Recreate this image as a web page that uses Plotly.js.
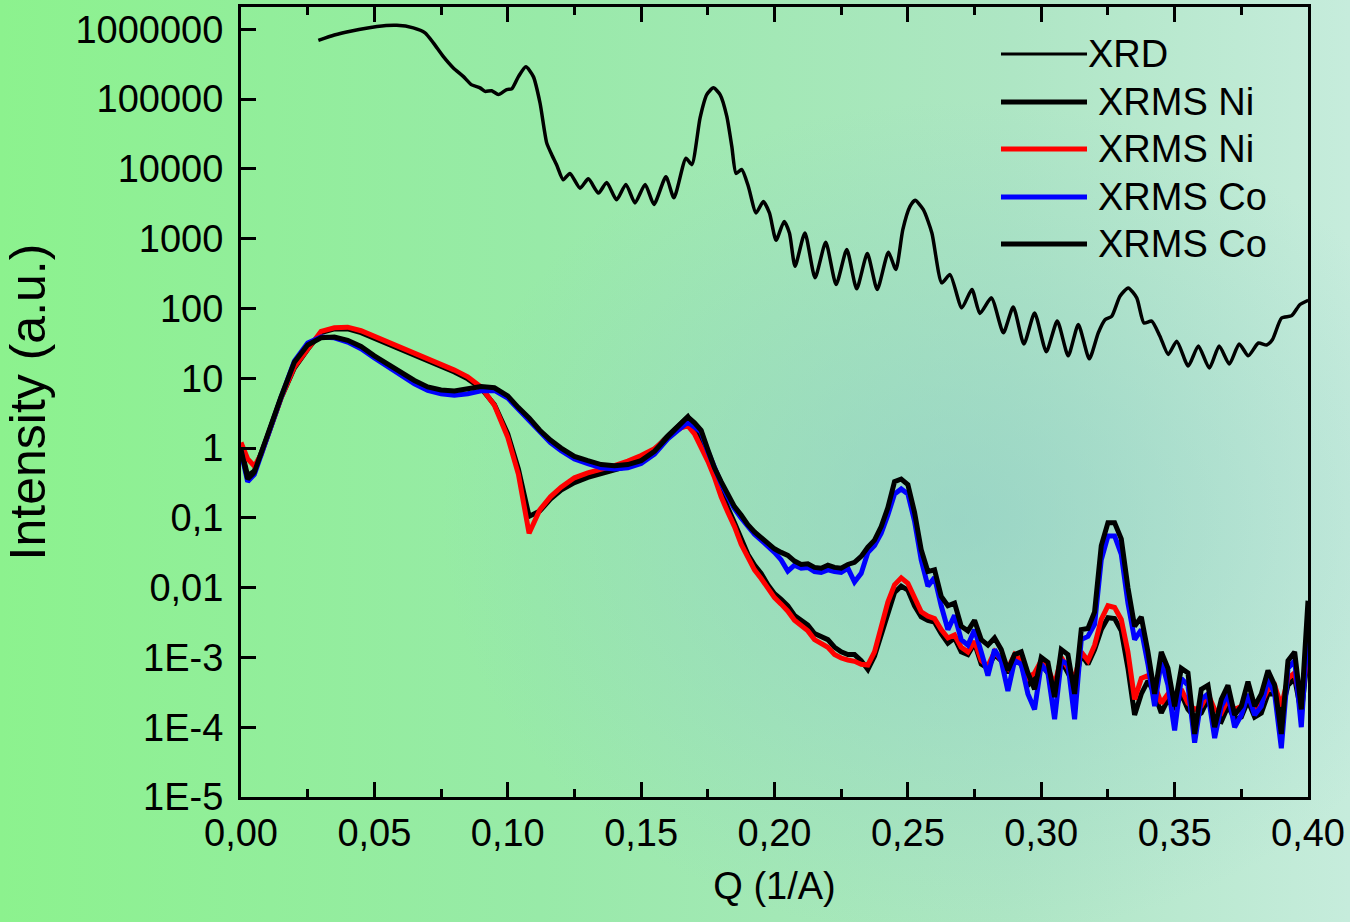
<!DOCTYPE html>
<html>
<head>
<meta charset="utf-8">
<script src="https://cdn.plot.ly/plotly-3.0.1.min.js"></script>
<style>
  html, body { margin: 0; padding: 0; }
  #chart {
    width: 1350px; height: 922px;
    background:
      radial-gradient(ellipse 520px 420px at 960px 520px, rgba(140,200,200,0.55) 0%, rgba(140,200,200,0.0) 100%),
      linear-gradient(to right, #8cf28e 0%, #98eaa8 40%, #aee6c4 75%, #c6ecdc 100%);
  }
</style>
</head>
<body>
<div id="chart"></div>
<script>
// ---------------- DATA ----------------
// XRD
const xrdQ = [0.029,0.035,0.041,0.051,0.0584,0.0646,0.069,0.0721,0.0758,0.0796,0.0833,0.0865,0.0896,0.0915,0.094,0.0965,0.0996,0.1015,0.104,0.1068,0.1096,0.1121,0.1146,0.1165,0.1183,0.1208,0.1233,0.1271,0.1302,0.134,0.1371,0.1408,0.1443,0.1477,0.1515,0.1548,0.1593,0.1623,0.1668,0.169,0.1721,0.1746,0.1771,0.1796,0.1821,0.184,0.1856,0.1877,0.1902,0.1931,0.1958,0.1981,0.2006,0.2036,0.2056,0.2077,0.2114,0.2152,0.2192,0.2231,0.2271,0.2308,0.2348,0.2385,0.2427,0.2455,0.2481,0.2508,0.2527,0.2558,0.259,0.2627,0.2658,0.2702,0.274,0.277,0.2813,0.2858,0.2895,0.2935,0.2975,0.3019,0.306,0.3101,0.3139,0.318,0.3214,0.3239,0.3264,0.3295,0.3326,0.3358,0.3385,0.3414,0.3445,0.3476,0.3508,0.3551,0.3589,0.363,0.3667,0.3705,0.3742,0.3776,0.3814,0.3845,0.3867,0.3901,0.3939,0.397,0.4001];
const xrdI = [6.95e5,8.3e5,9.4e5,1.10e6,1.14e6,1.05e6,8.9e5,6.4e5,4.1e5,2.8e5,2.12e5,1.6e5,1.45e5,1.29e5,1.32e5,1.16e5,1.37e5,1.40e5,2.1e5,2.9e5,2.1e5,8.8e4,2.36e4,1.6e4,1.15e4,7.0e3,8.6e3,5.3e3,7.2e3,4.5e3,6.4e3,3.6e3,6.0e3,3.26e3,6.0e3,3.1e3,7.7e3,3.85e3,1.42e4,1.15e4,5.4e4,1.16e5,1.45e5,1.16e5,5.7e4,2.1e4,8.6e3,9.8e3,5.6e3,2.34e3,3.4e3,2.34e3,950,1770,1210,403,1210,275,888,220,698,191,612,187,638,361,1350,2900,3550,2610,1210,233,306,102,187,85,142,45,105,31,86,24,66,21,59,19,45,69,77,150,197,142,62,66,40,22,34,15,29,14,29,16,31,21,32,30,36,73,79,114,131];

// XRMS common Q grid
const qGrid = [
  0,0.0025,0.005,0.0075,0.01,0.015,0.02,0.025,0.03,0.035,
  0.04,0.045,0.05,0.055,0.06,0.065,0.07,0.075,0.08,0.085,
  0.09,0.095,0.1,0.104,0.108,0.112,0.116,0.12,0.125,0.13,
  0.135,0.14,0.145,0.15,0.155,0.16,0.1625,0.165,0.1675,0.17,
  0.1725,0.175,0.1775,0.18,0.1825,0.185,0.1875,0.19,0.1925,0.195,
  0.1975,0.2,0.2025,0.205,0.2075,0.21,0.2125,0.215,0.2175,0.22,
  0.2225,0.225,0.2275,0.23,0.2325,0.235,0.2375,0.24,0.2425,0.245,
  0.2475,0.25,0.2525,0.255,0.2575,0.26,0.2625,0.265,0.2675,0.27,
  0.2725,0.275,0.2775,0.28,0.2825,0.285,0.2875,0.29,0.2925,0.295,
  0.2975,0.3,0.3025,0.305,0.3075,0.31,0.3125,0.315,0.3175,0.32,
  0.3225,0.325,0.3275,0.33,0.3325,0.335,0.3375,0.34,0.3425,0.345,
  0.3475,0.35,0.3525,0.355,0.3575,0.36,0.3625,0.365,0.3675,0.37,
  0.3725,0.375,0.3775,0.38,0.3825,0.385,0.3875,0.39,0.3925,0.395,
  0.3975,0.4];

const niBlack = [
  1.0,0.4,0.47,0.82,1.5,5.2,14,26,45,51,
  51,45,37.5,31,25.5,21.5,18,15,12.3,9.8,
  7.2,4.2,1.6,0.5,0.105,0.125,0.185,0.25,0.32,0.38,
  0.43,0.49,0.55,0.7,0.95,1.5,1.85,2.3,2.8,1.9,
  1.2,0.75,0.42,0.23,0.14,0.085,0.05,0.03,0.021,0.016,
  0.011,0.0082,0.0068,0.0055,0.004,0.0034,0.0029,0.0022,0.002,0.0018,
  0.0014,0.0012,0.0011,0.0011,0.0009,0.00067,0.00105,0.0022,0.0045,0.0085,
  0.0105,0.0092,0.0055,0.0038,0.0034,0.0032,0.0022,0.0016,0.0019,0.0012,
  0.0011,0.0016,0.0008,0.0007,0.0011,0.0009,0.0006,0.001,0.0008,0.0004,
  0.0005,0.0008,0.0006,0.0003,0.0009,0.0006,0.0004,0.0011,0.0008,0.0013,
  0.0025,0.0037,0.0036,0.0024,0.0007,0.00015,0.0003,0.00046,0.0003,0.00016,
  0.00025,0.00018,0.0003,0.00018,0.00014,0.00016,0.00025,0.00013,0.00012,0.0002,
  0.00013,0.00014,0.00024,0.00014,0.00016,0.0003,0.0003,0.00016,0.0004,0.0005,
  0.00016,0.0012];

const niRed = [
  1.2,0.7,0.55,0.8,1.5,5.2,14.5,27,47,53,
  54,48,40,33,27,22.5,19,16,13.1,10.5,
  7.5,4.1,1.43,0.42,0.06,0.13,0.2,0.275,0.375,0.44,
  0.49,0.56,0.65,0.78,0.98,1.45,1.7,1.95,2.1,1.6,
  1.05,0.65,0.38,0.2,0.12,0.075,0.042,0.027,0.018,0.0135,
  0.0095,0.0072,0.0058,0.0046,0.0034,0.0029,0.0024,0.0018,0.0016,0.0014,
  0.0011,0.00098,0.00092,0.00088,0.0008,0.00078,0.0012,0.0028,0.0062,0.011,
  0.0138,0.0115,0.007,0.0045,0.0039,0.0036,0.0025,0.0019,0.0021,0.0014,
  0.0012,0.0017,0.0009,0.00075,0.0012,0.0009,0.0007,0.0011,0.0009,0.0005,
  0.0006,0.0009,0.0007,0.0004,0.001,0.0007,0.0005,0.0012,0.0009,0.0015,
  0.0035,0.0055,0.0052,0.0035,0.0012,0.00025,0.0005,0.00055,0.0004,0.00022,
  0.0003,0.00025,0.00035,0.00022,0.00018,0.0002,0.0003,0.00018,0.00016,0.00025,
  0.00018,0.0002,0.00028,0.00018,0.00022,0.00035,0.0004,0.0002,0.0005,0.0006,
  0.0002,0.0015];

const coBlue = [
  0.9,0.33,0.42,0.8,1.55,5.3,17.5,32,39,38,
  33,26.5,19.5,14.5,10.8,8.3,6.7,6.0,5.7,6.0,
  6.6,6.7,5.2,3.6,2.5,1.65,1.2,0.92,0.7,0.6,
  0.52,0.5,0.52,0.6,0.82,1.35,1.65,2.0,2.35,2.0,
  1.7,0.9,0.5,0.31,0.2,0.135,0.1,0.075,0.058,0.048,
  0.04,0.032,0.025,0.0172,0.021,0.019,0.0195,0.017,0.0165,0.018,
  0.017,0.0165,0.019,0.012,0.016,0.032,0.04,0.06,0.11,0.22,
  0.26,0.22,0.09,0.025,0.0105,0.014,0.0055,0.0025,0.004,0.0018,
  0.0015,0.0025,0.0012,0.00055,0.0013,0.0009,0.00033,0.0009,0.0008,0.0003,
  0.00018,0.0008,0.0006,0.00013,0.0009,0.0008,0.00013,0.0018,0.002,0.003,
  0.025,0.055,0.055,0.03,0.006,0.0018,0.0025,0.0008,0.0002,0.0009,
  0.0004,0.00009,0.0005,0.0004,0.00006,0.00025,0.0003,0.00007,0.0002,0.0003,
  0.0001,0.00015,0.0003,0.00015,0.0002,0.0005,0.0003,0.00005,0.0007,0.0009,
  0.0001,0.003];

const coBlack = [
  0.95,0.36,0.45,0.85,1.6,5.4,17,30,38,39,
  35,28.5,21,16,12,9.3,7.5,6.8,6.6,7.0,
  7.6,7.3,5.6,3.8,2.7,1.8,1.3,1.0,0.76,0.66,
  0.58,0.56,0.58,0.66,0.9,1.45,1.8,2.3,2.8,2.3,
  1.8,0.95,0.52,0.33,0.22,0.145,0.11,0.08,0.063,0.052,
  0.045,0.036,0.032,0.029,0.024,0.0215,0.022,0.0195,0.019,0.021,
  0.0195,0.019,0.0215,0.023,0.028,0.038,0.048,0.075,0.14,0.33,
  0.36,0.30,0.12,0.035,0.017,0.018,0.0075,0.0055,0.006,0.0028,
  0.0024,0.0034,0.0018,0.0015,0.0019,0.0013,0.00065,0.0011,0.0012,0.0006,
  0.00035,0.001,0.00085,0.00027,0.0013,0.0011,0.0003,0.0025,0.0026,0.0045,
  0.04,0.085,0.085,0.05,0.01,0.0028,0.0038,0.0012,0.0003,0.0012,
  0.0007,0.0002,0.0007,0.0006,0.00008,0.00035,0.0004,0.0001,0.00025,0.0004,
  0.00015,0.0002,0.00045,0.0002,0.0003,0.00065,0.0004,0.00008,0.0009,0.0012,
  0.00018,0.0065];

const seriesNames = ['XRD','XRMS Ni','XRMS Ni','XRMS Co','XRMS Co'];
const yTickVals = [1e-5,1e-4,1e-3,1e-2,1e-1,1,10,100,1000,10000,100000,1000000];
const yTickText = ['1E-5','1E-4','1E-3','0,01','0,1','1','10','100','1000','10000','100000','1000000'];

// ---------------- STYLE ----------------
const FONT = 'Liberation Sans, Arial, sans-serif';
const W = 1350, H = 922;
const PL = 241, PR = 1308, PT = 7, PB = 797;

const traces = [
  {x: xrdQ, y: xrdI, name: seriesNames[0], mode: 'lines', line: {color: '#000', width: 3.5, shape: 'spline', smoothing: 0.6}},
  {x: qGrid, y: niBlack, name: seriesNames[1], mode: 'lines', line: {color: '#000', width: 5}},
  {x: qGrid, y: niRed, name: seriesNames[2], mode: 'lines', line: {color: '#ff0000', width: 5}},
  {x: qGrid, y: coBlue, name: seriesNames[3], mode: 'lines', line: {color: '#0000ff', width: 5}},
  {x: qGrid, y: coBlack, name: seriesNames[4], mode: 'lines', line: {color: '#000', width: 5}}
];

// custom legend (long line samples as in the reference)
const px2x = p => (p - PL) / (PR - PL);
const py2y = p => (PB - p) / (PB - PT);
const legRows = [
  {y: 54, color: '#000', width: 3, tx: 1086},
  {y: 102, color: '#000', width: 5, tx: 1096},
  {y: 149, color: '#ff0000', width: 5, tx: 1096},
  {y: 197, color: '#0000ff', width: 5, tx: 1096},
  {y: 244, color: '#000', width: 5, tx: 1096}
];
const shapes = legRows.map(r => ({
  type: 'line', xref: 'paper', yref: 'paper',
  x0: px2x(1001), x1: px2x(1087), y0: py2y(r.y), y1: py2y(r.y),
  line: {color: r.color, width: r.width}
}));
const annotations = legRows.map((r, i) => ({
  xref: 'paper', yref: 'paper', x: px2x(r.tx), y: py2y(r.y),
  xanchor: 'left', yanchor: 'middle', showarrow: false,
  text: seriesNames[i], font: {family: FONT, size: 38, color: '#000'}
}));

const layout = {
  width: W, height: H,
  margin: {l: PL, r: W - PR, t: PT, b: H - PB, pad: 0},
  paper_bgcolor: 'rgba(0,0,0,0)',
  plot_bgcolor: 'rgba(0,0,0,0)',
  separators: ', ',
  showlegend: false,
  font: {family: FONT, color: '#000'},
  xaxis: {
    range: [0, 0.4], dtick: 0.05, tick0: 0, tickformat: '.2f',
    ticks: 'inside', ticklen: 15, tickwidth: 3, tickcolor: '#000',
    minor: {dtick: 0.025, ticks: 'inside', ticklen: 8, tickwidth: 3, tickcolor: '#000'},
    showline: true, linewidth: 3, linecolor: '#000', mirror: 'ticks',
    showgrid: false, zeroline: false,
    tickfont: {family: FONT, size: 38, color: '#000'},
    title: {text: 'Q (1/A)', font: {family: FONT, size: 38, color: '#000'}, standoff: 20}
  },
  yaxis: {
    type: 'log', range: [-5, 6.32],
    tickvals: yTickVals, ticktext: yTickText,
    ticks: 'inside', ticklen: 15, tickwidth: 3, tickcolor: '#000',
    ticklabelstandoff: 7,
    showline: true, linewidth: 3, linecolor: '#000', mirror: true,
    showgrid: false, zeroline: false,
    tickfont: {family: FONT, size: 38, color: '#000'},
    title: {text: 'Intensity (a.u.)', font: {family: FONT, size: 50, color: '#000'}, standoff: 16}
  },
  shapes: shapes,
  annotations: annotations
};

Plotly.newPlot('chart', traces, layout, {displayModeBar: false, staticPlot: true});
</script>
</body>
</html>
